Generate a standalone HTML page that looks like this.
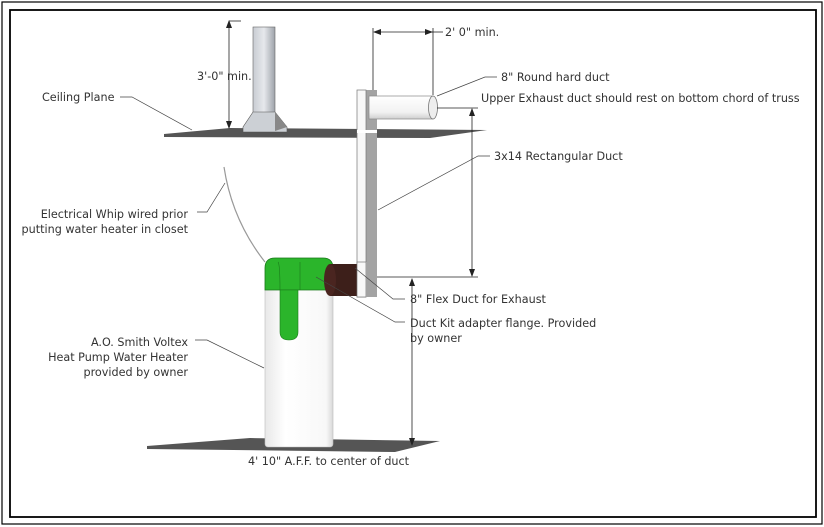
<!DOCTYPE html>
<html><head><style>
html,body{margin:0;padding:0;background:#fff;}
svg{display:block;}
text{font-family:"DejaVu Sans","Liberation Sans",sans-serif;font-size:11.2px;fill:#333;}
</style></head><body>
<svg width="824" height="527" viewBox="0 0 824 527">
<defs>
<linearGradient id="pipe" x1="0" x2="1"><stop offset="0" stop-color="#c8ccd2"/><stop offset="0.5" stop-color="#e6e8ec"/><stop offset="1" stop-color="#9ea3aa"/></linearGradient>
<linearGradient id="rd" x1="0" y1="0" x2="0" y2="1"><stop offset="0" stop-color="#fff"/><stop offset="0.7" stop-color="#f2f2f2"/><stop offset="1" stop-color="#cfcfcf"/></linearGradient>
<linearGradient id="wh" x1="0" x2="1"><stop offset="0" stop-color="#e8e8e8"/><stop offset="0.3" stop-color="#fff"/><stop offset="0.9" stop-color="#f8f8f8"/><stop offset="1" stop-color="#d8d8d8"/></linearGradient>
<marker id="a" markerWidth="8" markerHeight="8" refX="7" refY="4" orient="auto-start-reverse" markerUnits="userSpaceOnUse"><path d="M0,1 L8,4 L0,7z" fill="#222"/></marker>
</defs>
<rect x="2" y="2" width="820" height="522" fill="none" stroke="#000" stroke-width="1.2"/>
<rect x="10" y="10" width="806" height="507" fill="none" stroke="#000" stroke-width="1.8"/>

<polygon points="164,134 230,128 487,130 430,138 164,137" fill="#555"/>
<rect x="253" y="27" width="22" height="86" fill="url(#pipe)" stroke="#666" stroke-width="0.6"/>
<polygon points="253,112 275,112 287,127 287,132 243,132 243,127" fill="#ccd0d5" stroke="#555" stroke-width="0.6"/>
<polygon points="275,112 287,127 275,131" fill="#888"/>
<line x1="229" y1="21" x2="229" y2="128" stroke="#222" stroke-width="0.8" marker-start="url(#a)" marker-end="url(#a)"/>
<line x1="229" y1="21" x2="241" y2="21" stroke="#222" stroke-width="0.8"/>
<text x="197" y="80">3'-0" min.</text>

<rect x="365" y="90" width="12" height="207" fill="#a3a3a3"/>
<rect x="357" y="90" width="9" height="207" fill="#f8f8f8" stroke="#777" stroke-width="0.7"/>
<rect x="357" y="130" width="20" height="3" fill="#fff"/>
<rect x="369" y="96" width="64" height="23" fill="url(#rd)" stroke="#888" stroke-width="0.7"/>
<ellipse cx="433" cy="107.5" rx="4.5" ry="11.5" fill="#eee" stroke="#777" stroke-width="0.8"/>
<line x1="373" y1="28" x2="373" y2="90" stroke="#222" stroke-width="0.8"/>
<line x1="433" y1="28" x2="433" y2="95" stroke="#222" stroke-width="0.8"/>
<line x1="374" y1="32" x2="432" y2="32" stroke="#222" stroke-width="0.8" marker-start="url(#a)" marker-end="url(#a)"/>
<line x1="432" y1="32" x2="443" y2="32" stroke="#222" stroke-width="0.8"/>
<text x="445" y="36">2' 0" min.</text>
<line x1="437" y1="108" x2="478" y2="108" stroke="#222" stroke-width="0.7"/>
<line x1="472" y1="109" x2="472" y2="276" stroke="#222" stroke-width="0.8" marker-start="url(#a)" marker-end="url(#a)"/>
<line x1="377" y1="277" x2="478" y2="277" stroke="#222" stroke-width="0.7"/>

<polygon points="147,446 250,438 440,441 395,452 147,449" fill="#555"/>
<rect x="265" y="280" width="68" height="167" rx="3" fill="url(#wh)" stroke="#bbb" stroke-width="0.6"/>
<path d="M265,268 Q265,258 275,258 L323,258 Q333,258 333,268 L333,290 L265,290 Z" fill="#2bb52b" stroke="#1a7a1a" stroke-width="0.8"/>
<path d="M280,290 L298,290 L298,332 Q298,340 289,340 Q280,340 280,332 Z" fill="#2bb52b" stroke="#1a7a1a" stroke-width="0.6"/>
<path d="M278,262 Q280,264 280,290 M300,262 Q300,264 300,290" stroke="#1a7a1a" stroke-width="0.6" fill="none"/>
<rect x="330" y="264" width="28" height="32" fill="#3d1f1a"/>
<ellipse cx="330" cy="280" rx="6" ry="16" fill="#4a2520"/>
<rect x="357" y="262" width="9" height="35" fill="#f8f8f8" stroke="#777" stroke-width="0.7"/>
<rect x="366" y="262" width="11" height="35" fill="#a3a3a3"/>
<line x1="412" y1="279" x2="412" y2="445" stroke="#222" stroke-width="0.8" marker-start="url(#a)" marker-end="url(#a)"/>
<text x="248" y="465">4' 10" A.F.F. to center of duct</text>

<path d="M224,167 Q232,220 265,262" stroke="#999" stroke-width="1.2" fill="none"/>

<g stroke="#444" stroke-width="0.7" fill="none">
<polyline points="120,97 132,97 192,130"/>
<polyline points="197,212 207,212 225,183"/>
<polyline points="497,77 485,77 437,96"/>
<polyline points="490,156 478,156 378,210"/>
<polyline points="405,299 393,299 355,268"/>
<polyline points="405,322 395,322 316,277"/>
<polyline points="195,340 207,340 264,368"/>
</g>

<text x="42" y="101">Ceiling Plane</text>
<text x="188" y="218" text-anchor="end">Electrical Whip wired prior</text>
<text x="188" y="233" text-anchor="end">putting water heater in closet</text>
<text x="188" y="346" text-anchor="end">A.O. Smith Voltex</text>
<text x="188" y="361" text-anchor="end">Heat Pump Water Heater</text>
<text x="188" y="376" text-anchor="end">provided by owner</text>
<text x="501" y="81">8" Round hard duct</text>
<text x="481" y="102">Upper Exhaust duct should rest on bottom chord of truss</text>
<text x="494" y="160">3x14 Rectangular Duct</text>
<text x="410" y="303">8" Flex Duct for Exhaust</text>
<text x="410" y="327">Duct Kit adapter flange. Provided</text>
<text x="410" y="342">by owner</text>
</svg>
</body></html>
